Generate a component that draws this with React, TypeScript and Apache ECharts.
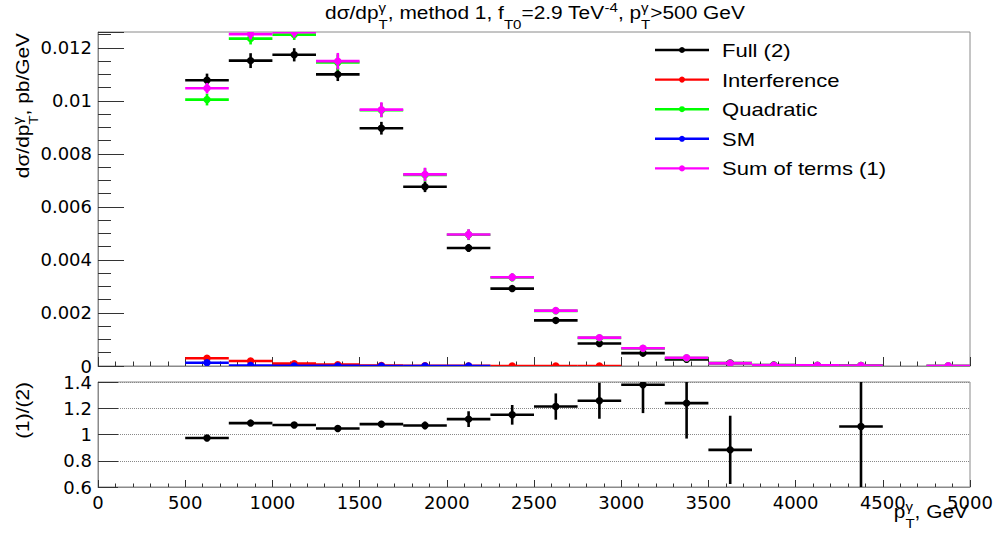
import React, { useEffect, useRef } from "react";
import * as echarts from "echarts";

// ---------------- data ----------------
const binLow = [500, 750, 1000, 1250, 1500, 1750, 2000, 2250, 2500, 2750, 3000, 3250, 3500, 3750, 4000, 4250, 4500, 4750];
const binWidth = 250;

const fullVals = [0.01078, 0.01152, 0.01174, 0.011, 0.00897, 0.00676, 0.00445, 0.00292, 0.00172, 0.00085, 0.000485, 0.00025, 0.000113, 0.00004, 0.00002, 0.000019, null, null];
const fullErr = [0.00025, 0.00028, 0.00025, 0.00025, 0.00024, 0.0002, 0.00015, 0.00011, 0.00008, 0.00006, 0.00005, 0.00004, 0.00003, 0.00002, 0.00002, 0.00002, null, null];

const interfVals = [0.00029, 0.00019, 0.00009, 0.00005, 0.00002, 0.00001, 0.000005, 0.000002, 0.000001, 0.000001, null, null, null, null, null, null, null, null];
const interfErr = [0.00003, 0.00002, 0.00001, 0.00001, 0.000005, 0.000003, 0.000002, 0.000001, 0.000001, 0.000001, null, null, null, null, null, null, null, null];

const quadVals = [0.01005, 0.01235, 0.0125, 0.01145, 0.00965, 0.00721, 0.00495, 0.00334, 0.00208, 0.00106, 0.00066, 0.0003, 0.0001, 0.00003, 0.00003, 0.00002, null, 0.00001];
const quadErr = [0.00022, 0.00022, 0.0002, 0.0003, 0.00027, 0.00025, 0.0002, 0.00015, 0.0001, 0.00008, 0.00006, 0.00004, 0.00003, 0.00002, 0.00002, 0.00002, null, 0.00001];

const smVals = [0.000125, 0.00002, 0.000005, 0.000003, 0.000002, 0.000001, 0.000001, null, null, null, null, null, null, null, null, null, null, null];
const smErr = [0.00001, 0.000003, 0.000001, 0.000001, 0.000001, 0.000001, 0.000001, null, null, null, null, null, null, null, null, null, null, null];

const sumVals = [0.01048, 0.01252, 0.01259, 0.0115, 0.00967, 0.00723, 0.00496, 0.00335, 0.00209, 0.00107, 0.00067, 0.00031, 0.0001, 0.00003, 0.00003, 0.00002, null, 0.00001];
const sumErr = [0.0002, 0.0002, 0.0002, 0.00031, 0.00028, 0.00025, 0.0002, 0.00015, 0.0001, 0.00008, 0.00006, 0.00004, 0.00003, 0.00002, 0.00002, 0.00002, null, 0.00001];

const ratioVals = [0.973, 1.087, 1.072, 1.046, 1.079, 1.069, 1.117, 1.15, 1.213, 1.257, 1.379, 1.239, 0.883, null, null, 1.061, null, null];
const ratioErr = [0.012, 0.018, 0.018, 0.02, 0.025, 0.03, 0.06, 0.075, 0.1, 0.137, 0.216, 0.27, 0.26, null, null, 0.6, null, null];

const seriesNames = ["Full (2)", "Interference", "Quadratic", "SM", "Sum of terms (1)"];
const seriesColors = ["#000000", "#ff0000", "#00ff00", "#0000ff", "#ff00ff"];

const xMin = 0, xMax = 5000, xStep = 500;
const yTopMin = 0, yTopMax = 0.0126, yTopStep = 0.002;
const yBotMin = 0.6, yBotMax = 1.4, yBotStep = 0.2;

// ---------------- text helpers ----------------
const FONT = '"Liberation Sans", Arial, sans-serif';
const TICK_FONT = '"DejaVu Sans", sans-serif';
const SX = 1.16;

let _ctx: any = null;
function measure(text: string, size: number) {
  if (!_ctx) _ctx = document.createElement("canvas").getContext("2d");
  _ctx.font = `${size}px "Liberation Sans"`;
  return _ctx.measureText(text).width;
}

type Tok = { t?: string; sup?: string; sub?: string };

function layoutRow(tokens: Tok[], size: number, small: number, supRise: number, subDrop: number) {
  const els: any[] = [];
  let x = 0;
  const k = 0.35;
  const mk = (text: string, fs: number, px: number, py: number) => ({
    type: "text",
    x: px,
    y: py,
    silent: true,
    style: { text, fontSize: fs, fontFamily: FONT, fill: "#000", align: "left", verticalAlign: "middle" },
  });
  for (const tok of tokens) {
    if (tok.t !== undefined) {
      els.push(mk(tok.t, size, x, -k * size));
      x += measure(tok.t, size);
    } else {
      let w = 0;
      if (tok.sup) {
        els.push(mk(tok.sup, small, x, -supRise - k * small));
        w = Math.max(w, measure(tok.sup, small));
      }
      if (tok.sub) {
        els.push(mk(tok.sub, small, x, subDrop - k * small));
        w = Math.max(w, measure(tok.sub, small));
      }
      x += w;
    }
  }
  return { els, width: x };
}

function shiftEls(els: any[], dx: number) {
  return els.map((e) => ({ ...e, x: e.x + dx }));
}

// ---------------- series helpers ----------------
function buildData(vals: (number | null)[], errs: (number | null)[]) {
  const out: number[][] = [];
  binLow.forEach((lo, i) => {
    const v = vals[i];
    if (v === null || v === undefined) return;
    out.push([lo, lo + binWidth, v, (errs[i] as number) ?? 0]);
  });
  return out;
}

function makeRenderItem(color: string, lw: number, r: number) {
  return (params: any, api: any) => {
    const lo = api.value(0), hi = api.value(1), v = api.value(2), e = api.value(3);
    const cs = params.coordSys;
    const top = cs.y, bot = cs.y + cs.height;
    const clampY = (yy: number) => Math.max(top, Math.min(bot, yy));
    const pl = api.coord([lo, v]);
    const pr = api.coord([hi, v]);
    const xc = api.coord([(lo + hi) / 2, v])[0];
    const pu = api.coord([(lo + hi) / 2, v + e]);
    const pd = api.coord([(lo + hi) / 2, v - e]);
    const yc = pl[1];
    const inside = yc >= top - 0.5 && yc <= bot + 0.5;
    const children: any[] = [];
    if (inside) {
      children.push({ type: "line", shape: { x1: pl[0], y1: yc, x2: pr[0], y2: yc }, style: { stroke: color, lineWidth: lw } });
    }
    const y1 = clampY(pu[1]), y2 = clampY(pd[1]);
    if (y2 - y1 > 0.5) {
      children.push({ type: "line", shape: { x1: xc, y1, x2: xc, y2 }, style: { stroke: color, lineWidth: lw } });
    }
    if (inside) {
      children.push({ type: "circle", shape: { cx: xc, cy: yc, r }, style: { fill: color } });
    }
    return { type: "group", children };
  };
}

const fmt = (v: number) => String(parseFloat(v.toPrecision(6)));

export default function App() {
  const ref = useRef<HTMLDivElement>(null);

  useEffect(() => {
    if (!ref.current) return;
    const chart = echarts.init(ref.current, undefined, { renderer: "svg" });

    const frameColor = "#8a8a8a";
    const tickColor = "#333";

    const gridLeft = 98, gridRight = 28;
    const topGrid = { left: gridLeft, right: gridRight, top: 32, height: 334 };
    const botGrid = { left: gridLeft, right: gridRight, top: 382, height: 105 };

    const topSeriesVals = [fullVals, interfVals, quadVals, smVals, sumVals];
    const topSeriesErrs = [fullErr, interfErr, quadErr, smErr, sumErr];

    const series: any[] = topSeriesVals.map((vals, i) => ({
      type: "custom",
      name: seriesNames[i],
      xAxisIndex: 0,
      yAxisIndex: 0,
      silent: true,
      clip: true,
      encode: { x: [0, 1], y: 2 },
      renderItem: makeRenderItem(seriesColors[i], 2.6, 3.7),
      data: buildData(vals, topSeriesErrs[i]),
    }));
    series.push({
      type: "custom",
      name: "ratio",
      xAxisIndex: 1,
      yAxisIndex: 1,
      silent: true,
      clip: true,
      encode: { x: [0, 1], y: 2 },
      renderItem: makeRenderItem("#000000", 2.6, 3.7),
      data: buildData(ratioVals, ratioErr),
    });

    // titles
    const titleRow = layoutRow(
      [{ t: "dσ/dp" }, { sup: "γ", sub: "T" }, { t: ", method 1, f" }, { sub: "T0" }, { t: "=2.9 TeV" }, { sup: "-4" }, { t: ", p" }, { sup: "γ", sub: "T" }, { t: ">500 GeV" }],
      18, 13, 7, 10
    );
    const yTitleRow = layoutRow([{ t: "dσ/dp" }, { sup: "γ", sub: "T" }, { t: ", pb/GeV" }], 18, 13, 7, 9);
    const ratioTitleRow = layoutRow([{ t: "(1)/(2)" }], 18, 13, 7, 9);
    const xTitleRow = layoutRow([{ t: "p" }, { sup: "γ", sub: "T" }, { t: ", GeV" }], 18, 13, 7, 10);

    const graphic: any[] = [
      { type: "group", x: 535 - (titleRow.width * SX) / 2, y: 18.5, scaleX: SX, children: titleRow.els, silent: true },
      { type: "group", x: 29, y: 33, rotation: Math.PI / 2, scaleX: SX, children: shiftEls(yTitleRow.els, -yTitleRow.width), silent: true },
      { type: "group", x: 29, y: 382, rotation: Math.PI / 2, scaleX: SX, children: shiftEls(ratioTitleRow.els, -ratioTitleRow.width), silent: true },
      { type: "group", x: 968 - xTitleRow.width * SX, y: 518, scaleX: SX, children: xTitleRow.els, silent: true },
    ];

    // legend
    const legY0 = 50, legDy = 29.6;
    seriesNames.forEach((name, i) => {
      const y = legY0 + i * legDy;
      graphic.push({ type: "line", silent: true, shape: { x1: 655, y1: y, x2: 709, y2: y }, style: { stroke: seriesColors[i], lineWidth: 2.4 } });
      graphic.push({ type: "circle", silent: true, shape: { cx: 682, cy: y, r: 3 }, style: { fill: seriesColors[i] } });
      graphic.push({
        type: "text",
        silent: true,
        x: 722,
        y,
        scaleX: SX,
        style: { text: name, fontSize: 19, fontFamily: FONT, fill: "#000", align: "left", verticalAlign: "middle" },
      });
    });

    const option: any = {
      animation: false,
      backgroundColor: "#ffffff",
      grid: [
        { ...topGrid, show: true, borderColor: frameColor, borderWidth: 1, backgroundColor: "transparent" },
        { ...botGrid, show: true, borderColor: frameColor, borderWidth: 1, backgroundColor: "transparent" },
      ],
      xAxis: [
        {
          type: "value",
          gridIndex: 0,
          min: xMin,
          max: xMax,
          interval: xStep,
          axisLine: { show: true, onZero: false, lineStyle: { color: frameColor, width: 1 } },
          axisTick: { show: true, inside: true, length: 9, lineStyle: { color: tickColor } },
          minorTick: { show: true, splitNumber: 5, length: 4.5, lineStyle: { color: tickColor } },
          axisLabel: { show: false },
          splitLine: { show: false },
        },
        {
          type: "value",
          gridIndex: 1,
          min: xMin,
          max: xMax,
          interval: xStep,
          axisLine: { show: true, onZero: false, lineStyle: { color: frameColor, width: 1 } },
          axisTick: { show: true, inside: true, length: 7, lineStyle: { color: tickColor } },
          minorTick: { show: true, splitNumber: 5, length: 3.5, lineStyle: { color: tickColor } },
          axisLabel: { show: true, fontSize: 18, fontFamily: TICK_FONT, color: "#000", margin: 6, formatter: fmt },
          splitLine: { show: false },
        },
      ],
      yAxis: [
        {
          type: "value",
          gridIndex: 0,
          min: yTopMin,
          max: yTopMax,
          interval: yTopStep,
          axisLine: { show: true, onZero: false, lineStyle: { color: frameColor, width: 1 } },
          axisTick: { show: true, inside: true, length: 26, lineStyle: { color: tickColor } },
          minorTick: { show: true, splitNumber: 4, length: 13, lineStyle: { color: tickColor } },
          axisLabel: { show: true, fontSize: 18, fontFamily: TICK_FONT, color: "#000", margin: 6, showMaxLabel: false, formatter: fmt },
          splitLine: { show: false },
        },
        {
          type: "value",
          gridIndex: 1,
          min: yBotMin,
          max: yBotMax,
          interval: yBotStep,
          axisLine: { show: true, onZero: false, lineStyle: { color: frameColor, width: 1 } },
          axisTick: { show: true, inside: true, length: 20, lineStyle: { color: tickColor } },
          axisLabel: { show: true, fontSize: 18, fontFamily: TICK_FONT, color: "#000", margin: 6, formatter: fmt },
          splitLine: { show: true, lineStyle: { type: "dotted", color: "#888", width: 1 } },
        },
      ],
      series,
      graphic,
    };

    chart.setOption(option);
    return () => chart.dispose();
  }, []);

  return (
    <div
      ref={ref}
      style={{ position: "fixed", left: 0, top: 0, width: 998, height: 537, background: "#fff" }}
    />
  );
}
